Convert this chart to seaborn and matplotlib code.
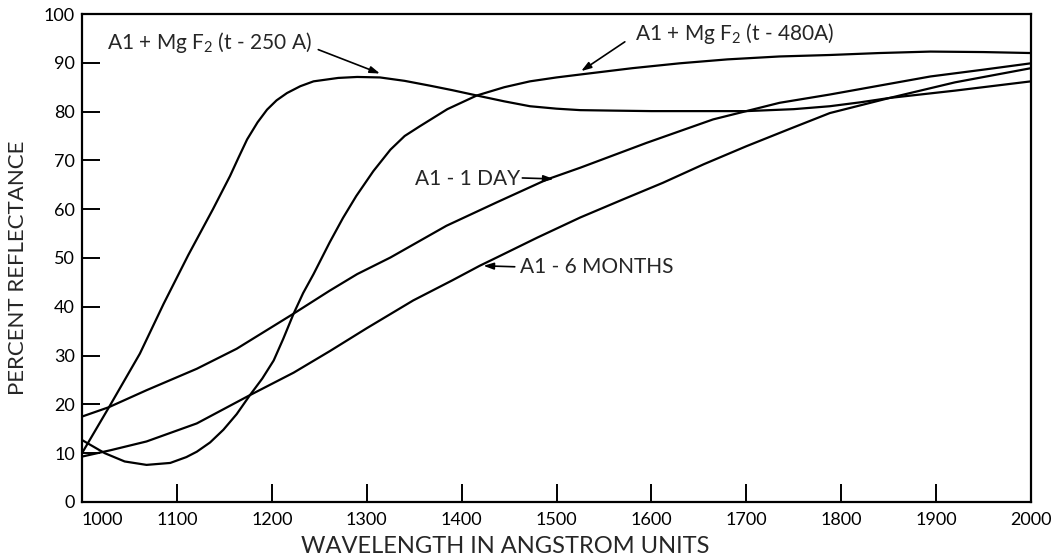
import numpy as np
import pandas as pd
import matplotlib
matplotlib.use("Agg")
import matplotlib.pyplot as plt
import seaborn as sns

# wavelength (angstrom) / percent reflectance
wl_250 = [1000, 1029, 1061, 1086, 1112, 1138, 1156, 1165, 1174, 1185, 1195, 1205,
          1216, 1230, 1244, 1270, 1290, 1314, 1340, 1367, 1390, 1416, 1445, 1472,
          1500, 1525, 1560, 1600, 1700, 1750, 1788, 1820, 1851, 1920, 2000]
r_250 = [10.0, 19.6, 30.4, 40.6, 50.6, 60.0, 66.8, 70.6, 74.3, 77.8, 80.4, 82.3,
         83.8, 85.2, 86.2, 86.9, 87.1, 87.0, 86.3, 85.3, 84.4, 83.3, 82.1, 81.1,
         80.6, 80.3, 80.2, 80.1, 80.1, 80.5, 81.1, 81.9, 82.8, 84.3, 86.2]

wl_480 = [1000, 1024, 1045, 1068, 1093, 1110, 1121, 1135, 1149, 1163, 1177, 1190,
          1202, 1212, 1223, 1233, 1244, 1261, 1275, 1289, 1307, 1325, 1340, 1356,
          1385, 1416, 1445, 1472, 1500, 1525, 1580, 1630, 1680, 1735, 1788, 1840,
          1894, 1950, 2000]
r_480 = [12.7, 10.0, 8.3, 7.6, 8.0, 9.2, 10.3, 12.2, 14.8, 18.0, 21.9, 25.3,
         29.0, 33.4, 38.6, 42.8, 46.7, 53.2, 58.2, 62.7, 67.8, 72.2, 75.0, 77.0,
         80.5, 83.3, 85.0, 86.2, 87.0, 87.6, 88.9, 89.9, 90.7, 91.3, 91.6, 92.0,
         92.3, 92.2, 92.0]

wl_1day = [1000, 1028, 1068, 1121, 1163, 1223, 1261, 1290, 1325, 1384, 1437, 1490,
           1525, 1595, 1665, 1735, 1788, 1894, 1950, 2000]
r_1day = [17.5, 19.4, 22.9, 27.3, 31.4, 38.6, 43.3, 46.7, 50.1, 56.6, 61.4, 66.1,
          68.5, 73.6, 78.4, 81.8, 83.5, 87.2, 88.6, 89.9]

wl_6mo = [1000, 1030, 1068, 1121, 1177, 1223, 1261, 1300, 1349, 1390, 1419, 1437,
          1480, 1525, 1570, 1612, 1655, 1700, 1745, 1788, 1851, 1920, 2000]
r_6mo = [9.3, 10.6, 12.4, 16.1, 21.9, 26.5, 30.9, 35.6, 41.3, 45.4, 48.4, 50.1,
         54.2, 58.3, 62.0, 65.4, 69.2, 72.9, 76.4, 79.7, 82.8, 86.0, 88.9]

x_ticks = [1000, 1100, 1200, 1300, 1400, 1500, 1600, 1700, 1800, 1900, 2000]
y_ticks = [0, 10, 20, 30, 40, 50, 60, 70, 80, 90, 100]

# labels: text, text anchor (left, middle), arrow tail, arrow head
labels = [
    ("A1 + Mg F$\\mathregular{_2}$ (t - 250 A)", (1026, 94.1), (1249, 92.7), (1314, 87.8)),
    ("A1 + Mg F$\\mathregular{_2}$ (t - 480A)", (1583, 96.1), (1572, 94.3), (1526, 88.3)),
    ("A1 - 1 DAY", (1351, 66.1), (1464, 66.4), (1497, 66.2)),
    ("A1 - 6 MONTHS", (1462, 48.2), (1456, 48.2), (1423, 48.4)),
]

frames = []
for name, w, r in [("250", wl_250, r_250), ("480", wl_480, r_480),
                   ("1day", wl_1day, r_1day), ("6mo", wl_6mo, r_6mo)]:
    frames.append(pd.DataFrame({"wavelength": w, "reflectance": r, "curve": name}))
df = pd.concat(frames, ignore_index=True)

sns.set_style("ticks")
plt.rcParams["font.family"] = ["Lato", "DejaVu Sans"]
plt.rcParams["mathtext.fontset"] = "custom"
plt.rcParams["mathtext.rm"] = "Lato"
plt.rcParams["mathtext.it"] = "Lato"

fig, ax = plt.subplots(figsize=(10.51, 5.58), dpi=100)
fig.subplots_adjust(left=0.078, right=0.981, bottom=0.1004, top=0.9749)

sns.lineplot(data=df, x="wavelength", y="reflectance", hue="curve", units="curve",
             estimator=None, palette=["black"] * 4, legend=False, lw=1.6, ax=ax)

ax.set_xlim(1000, 2000)
ax.set_ylim(0, 100)
ax.set_xticks(x_ticks)
ax.set_yticks(y_ticks)
ax.tick_params(direction="in", length=13, width=1.4, labelsize=13, colors="black")
ax.tick_params(axis="x", pad=7)
ax.tick_params(axis="y", pad=5)
ax.get_xticklabels()[0].set_ha("left")
for s in ax.spines.values():
    s.set_visible(True)
    s.set_linewidth(1.6)
    s.set_color("black")

ax.set_xlabel("WAVELENGTH IN ANGSTROM UNITS", fontsize=17)
ax.set_ylabel("PERCENT REFLECTANCE", fontsize=16)
ax.xaxis.set_label_coords(0.446, -0.07)
ax.yaxis.set_label_coords(-0.057, 0.48)

for txt, pos, tail, head in labels:
    ax.text(pos[0], pos[1], txt, fontsize=15, ha="left", va="center")
    ax.annotate("", xy=head, xytext=tail,
                arrowprops=dict(arrowstyle="-|>,head_length=0.6,head_width=0.2",
                                color="black", lw=1.2, shrinkA=0, shrinkB=0))

plt.savefig("out.png", dpi=100)
